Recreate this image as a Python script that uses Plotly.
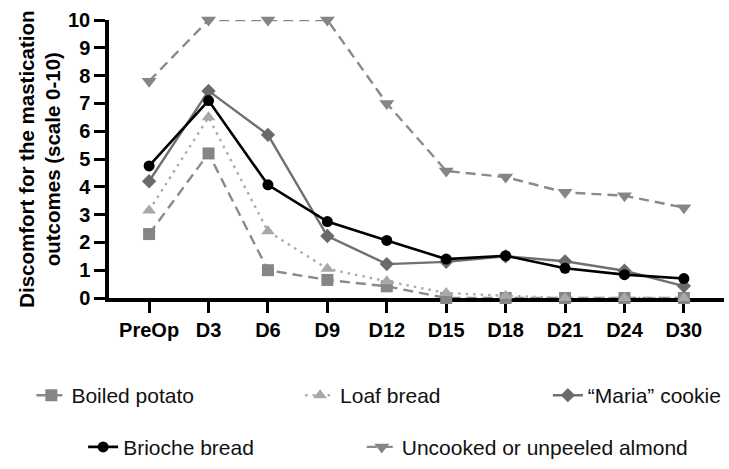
import plotly.graph_objects as go

days = ["PreOp", "D3", "D6", "D9", "D12", "D15", "D18", "D21", "D24", "D30"]
y_ticks = list(range(0, 11))

boiled_potato = [2.3, 5.2, 1.0, 0.65, 0.42, 0, 0, 0, 0, 0]
loaf_bread = [3.15, 6.5, 2.4, 1.05, 0.6, 0.18, 0.08, 0, 0, 0]
maria_cookie = [4.2, 7.45, 5.87, 2.23, 1.22, 1.3, 1.5, 1.32, 0.98, 0.43]
brioche_bread = [4.75, 7.1, 4.07, 2.75, 2.07, 1.4, 1.52, 1.07, 0.84, 0.7]
almond = [7.8, 10, 10, 10, 7.0, 4.57, 4.35, 3.8, 3.68, 3.25]

series = [
    dict(name="Boiled potato", y=boiled_potato, color="#8a8a8a", mcolor="#858585",
         dash="10px,6px", symbol="square", size=12, width=2.4),
    dict(name="Loaf bread", y=loaf_bread, color="#ababab", mcolor="#a8a8a8",
         dash="2.5px,5px", symbol="triangle-up", size=12, width=2.4),
    dict(name="\u201cMaria\u201d cookie", y=maria_cookie, color="#707070", mcolor="#6a6a6a",
         dash="solid", symbol="diamond", size=11, width=2.4),
    dict(name="Brioche bread", y=brioche_bread, color="#000000", mcolor="#000000",
         dash="solid", symbol="circle", size=11, width=2.6),
    dict(name="Uncooked or unpeeled almond", y=almond, color="#8a8a8a", mcolor="#858585",
         dash="10px,6px", symbol="triangle-down", size=13, width=2.4),
]

# plot area in pixels: x 109..727, y 20..305
L, R, T, B = 109, 727, 20, 305
W, H = 729, 469
def px_x(p):
    return (p - L) / (R - L)
def px_y(p):
    return (B - p) / (B - T)

# legend placement (text left edge, row center)
legend_pos = [(73, 405), (343, 405), (592, 405), (125, 458), (405, 458)]

fig = go.Figure()
legend_names = ["legend", "legend2", "legend3", "legend4", "legend5"]
for s, lname in zip(series, legend_names):
    fig.add_trace(go.Scatter(
        x=days, y=s["y"], name=s["name"], mode="lines+markers",
        line=dict(color=s["color"], width=s["width"], dash=s["dash"]),
        marker=dict(symbol=s["symbol"], size=s["size"], color=s["mcolor"]),
        cliponaxis=False, legend=lname,
    ))

font_family = "Arial, Liberation Sans, sans-serif"
layout_legends = {}
for (tx, ty), lname in zip(legend_pos, legend_names):
    layout_legends[lname] = dict(
        x=px_x(tx - 42), y=px_y(ty), xanchor="left", yanchor="middle",
        xref="paper", yref="paper", bgcolor="rgba(0,0,0,0)",
        font=dict(family=font_family, size=21, color="#111111"),
        orientation="h", itemwidth=30,
    )

fig.update_layout(
    width=W, height=H,
    margin=dict(l=L, r=W - R, t=T, b=H - B, pad=0),
    plot_bgcolor="white", paper_bgcolor="white",
    showlegend=True,
    **layout_legends,
    xaxis=dict(
        type="category", categoryorder="array", categoryarray=days,
        range=[-0.675, 9.675], showgrid=False, zeroline=False,
        showline=True, linecolor="black", linewidth=3.5,
        ticks="outside", ticklen=11, tickwidth=3, tickcolor="black",
        tickfont=dict(family=font_family, size=20, color="black", weight="bold"),
        layer="below traces", fixedrange=True,
    ),
    yaxis=dict(
        range=[0, 10], tickvals=y_ticks, showgrid=False, zeroline=False,
        showline=True, linecolor="black", linewidth=3.5,
        ticks="outside", ticklen=11, tickwidth=3, tickcolor="black",
        tickfont=dict(family=font_family, size=20, color="black", weight="bold"),
        layer="below traces", fixedrange=True,
    ),
    annotations=[dict(
        text="Discomfort for the mastication<br>outcomes (scale 0-10)",
        x=px_x(40), y=px_y(163), xref="paper", yref="paper",
        xanchor="center", yanchor="middle", textangle=-90, showarrow=False,
        font=dict(family=font_family, size=20.5, color="black", weight="bold"),
    )],
)

fig.write_html("out.html")
